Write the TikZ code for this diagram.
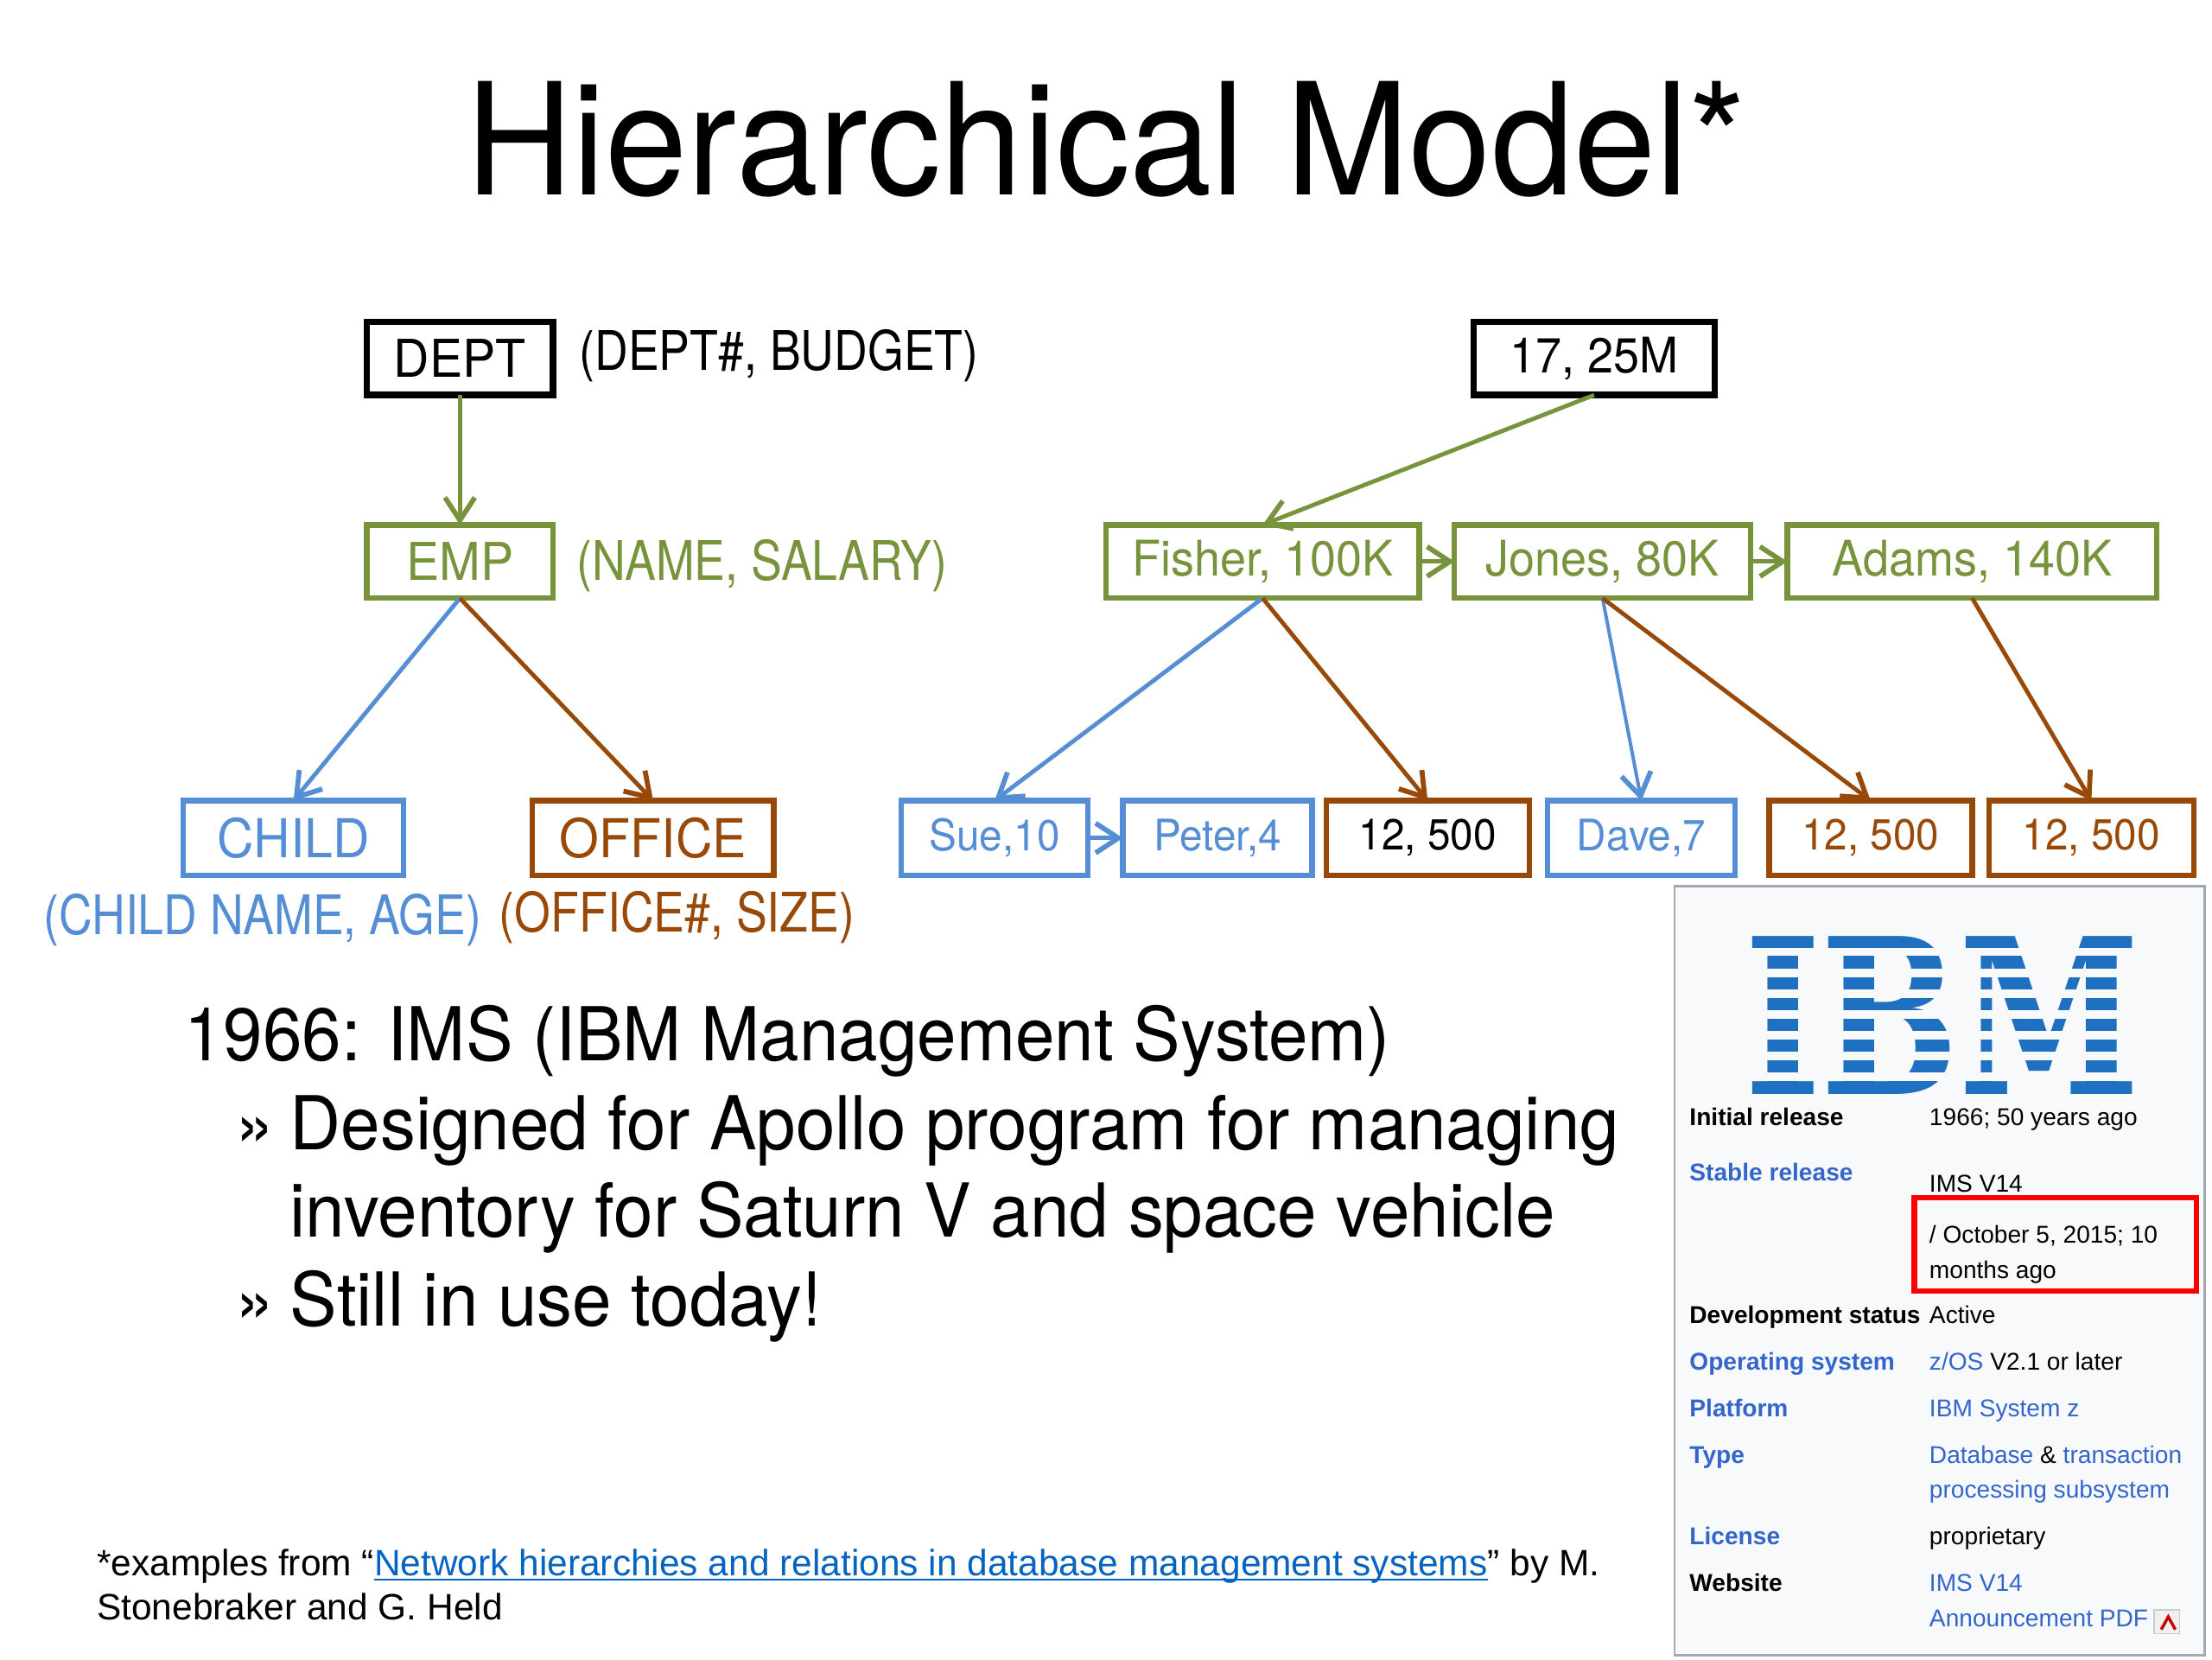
\documentclass[tikz,border=0pt]{standalone}
\usepackage{fontspec}
\setmainfont{TeX Gyre Heros}[FakeStretch=0.95]
\newfontfamily\attrfont{TeX Gyre Heros}[FakeStretch=0.85]
\newfontfamily\wikifont{Liberation Sans}
\newfontfamily\logofont{DejaVu Serif}
\usepackage{tikz}
\usetikzlibrary{arrows.meta,positioning}
\definecolor{emgreen}{HTML}{77933C}
\definecolor{emblue}{HTML}{558ED5}
\definecolor{embrown}{HTML}{984807}
\definecolor{wikibg}{HTML}{F8F9FA}
\definecolor{wikiline}{HTML}{A2A9B1}
\definecolor{wikilink}{HTML}{3366CC}
\definecolor{ibmblue}{HTML}{1F70C1}
\definecolor{fnblue}{HTML}{0563C1}
% underlined link text, line close to the baseline
\newcommand\fnlink[1]{\setbox0\hbox{#1}\rlap{\rule[-1pt]{\wd0}{0.4pt}}\box0}

\begin{document}
\begin{tikzpicture}[x=0.1mm,y=-0.1mm,
	>={Straight Barb[length=4.6pt,width=6pt,line width=1pt]},
	rec/.style={rectangle,draw,inner sep=0pt,outer sep=0pt,minimum height=5.2mm,line width=1.1pt,
		font=\fontsize{9.9}{12}\selectfont},
	blkbox/.style={rec,line width=1.3pt},
	grnbox/.style={rec,draw=emgreen,text=emgreen},
	blubox/.style={rec,draw=emblue,text=emblue,minimum height=5.3mm,
		font=\fontsize{8.75}{11}\selectfont},
	brnbox/.style={rec,draw=embrown,text=embrown,minimum height=5.3mm,
		font=\fontsize{8.75}{11}\selectfont},
	link/.style={->,line width=0.85pt},
	attr/.style={inner sep=0pt,font=\attrfont\fontsize{11}{13}\selectfont},
	body/.style={anchor=base west,inner sep=0pt,font=\fontsize{15}{18}\selectfont},
	wlabel/.style={anchor=base west,inner sep=0pt,font=\wikifont\bfseries\fontsize{4.9}{6}\selectfont},
	wvalue/.style={anchor=base west,inner sep=0pt,font=\wikifont\fontsize{4.9}{6}\selectfont},
	]
	\useasboundingbox (0,0) rectangle (1568,1176);

	\node [anchor=base,inner sep=0pt,font=\fontsize{31.4}{36}\selectfont] (title) at (784,138) {Hierarchical Model*};

	% schema
	\node [blkbox,minimum width=13.2mm,font=\fontsize{10.5}{12}\selectfont] (dept) at (326,254) {DEPT};
	\node [grnbox,minimum width=13.2mm,font=\fontsize{10.5}{12}\selectfont] (emp) at (326,398) {EMP};
	\node [blubox,minimum width=15.6mm,font=\fontsize{10.8}{13}\selectfont] (child) at (208,594) {CHILD};
	\node [brnbox,minimum width=17.1mm,font=\fontsize{10.8}{13}\selectfont] (office) at (463,594) {OFFICE};
	\node [attr,anchor=west] (deptattr) at (410,252) {(DEPT\#, BUDGET)};
	\node [attr,anchor=west,text=emgreen] (empattr) at (408,401) {(NAME, SALARY)};
	\node [attr,text=emblue] (childattr) at (186,652) {(CHILD NAME, AGE)};
	\node [attr,text=embrown] (officeattr) at (480,650) {(OFFICE\#, SIZE)};
	\draw [link,emgreen] (dept.south) -- (emp.north);
	\draw [link,emblue] (emp.south) -- (child.north);
	\draw [link,embrown] (emp.south) -- (office.north);

	% instance
	\node [blkbox,minimum width=17.1mm] (rec17) at (1130,254) {17, 25M};
	\node [grnbox,minimum width=22.2mm] (fisher) at (895,398) {Fisher, 100K};
	\node [grnbox,minimum width=21mm,right=2.5mm of fisher] (jones) {Jones, 80K};
	\node [grnbox,minimum width=26.2mm,right=2.6mm of jones] (adams) {Adams, 140K};
	\node [blubox,minimum width=13.2mm] (sue) at (705,594) {Sue,10};
	\node [blubox,minimum width=13.4mm,right=2.5mm of sue] (peter) {Peter,4};
	\node [brnbox,minimum width=14.4mm,text=black,right=1mm of peter] (offa) {12, 500};
	\node [blubox,minimum width=13.3mm,right=1.3mm of offa] (dave) {Dave,7};
	\node [brnbox,minimum width=14.4mm,right=2.4mm of dave] (offb) {12, 500};
	\node [brnbox,minimum width=14.5mm,right=1.2mm of offb] (offc) {12, 500};
	\draw [link,emgreen] (rec17.south) -- (fisher.north);
	\draw [link,emgreen] (fisher) -- (jones);
	\draw [link,emgreen] (jones) -- (adams);
	\draw [link,emblue] (fisher.south) -- (sue.north);
	\draw [link,embrown] (fisher.south) -- (offa.north);
	\draw [link,emblue] (sue) -- (peter);
	\draw [link,emblue,line width=0.7pt] (jones.south) -- (dave.north);
	\draw [link,embrown] (jones.south) -- (offb.north);
	\draw [link,embrown] (adams.south) -- (offc.north);

	% text
	\node [body] (ims) at (130,752) {1966: IMS (IBM Management System)};
	\node [body] (bul1) at (166,815) {»};
	\node [body] (apollo) at (205,815) {Designed for Apollo program for managing};
	\node [body] (saturn) at (205,877) {inventory for Saturn V and space vehicle};
	\node [body] (bul2) at (166,940) {»};
	\node [body] (still) at (205,940) {Still in use today!};

	\node [anchor=base west,inner sep=0pt,font=\wikifont\fontsize{7.4}{9}\selectfont] (note1) at (68,1117)
		{*examples from “\textcolor{fnblue}{\fnlink{Network hierarchies and relations in database management systems}}” by M.};
	\node [anchor=base west,inner sep=0pt,font=\wikifont\fontsize{7.4}{9}\selectfont] (note2) at (68,1148)
		{Stonebraker and G. Held};

	% infobox
	\draw [fill=wikibg,draw=wikiline,line width=0.5pt] (1187,628) rectangle (1563,1173);
	\node [anchor=north west,inner sep=0pt,text=ibmblue] (ibm) at (1236,663)
		{\resizebox{28mm}{11.2mm}{\logofont\bfseries IBM}};
	\foreach \k in {0,...,6}
		\fill [wikibg] (1228,{672.05+\k*14.71}) rectangle (1524,{677.71+\k*14.71});

	\node [wlabel] (l1) at (1197,798) {Initial release};
	\node [wvalue] (v1) at (1367,798) {1966; 50 years ago};
	\node [wlabel,text=wikilink] (l2) at (1197,837) {Stable release};
	\node [wvalue] (v2) at (1367,845) {IMS V14};
	\node [wvalue] (v2b) at (1367,881) {/ October 5, 2015; 10};
	\node [wvalue] (v2c) at (1367,906) {months ago};
	\draw [red,line width=1.1pt] (1357,849) rectangle (1557,915);
	\node [wlabel] (l3) at (1197,938) {Development status};
	\node [wvalue] (v3) at (1367,938) {Active};
	\node [wlabel,text=wikilink] (l4) at (1197,971) {Operating system};
	\node [wvalue] (v4) at (1367,971) {\textcolor{wikilink}{z/OS} V2.1 or later};
	\node [wlabel,text=wikilink] (l5) at (1197,1004) {Platform};
	\node [wvalue,text=wikilink] (v5) at (1367,1004) {IBM System z};
	\node [wlabel,text=wikilink] (l6) at (1197,1037) {Type};
	\node [wvalue,text=wikilink] (v6) at (1367,1037) {Database \textcolor{black}{\&} transaction};
	\node [wvalue,text=wikilink] (v6b) at (1367,1062) {processing subsystem};
	\node [wlabel,text=wikilink] (l7) at (1197,1095) {License};
	\node [wvalue] (v7) at (1367,1095) {proprietary};
	\node [wlabel] (l8) at (1197,1128) {Website};
	\node [wvalue,text=wikilink] (v8) at (1367,1128) {IMS V14};
	\node [wvalue,text=wikilink] (v8b) at (1367,1153) {Announcement PDF};
	\draw [fill=gray!12,draw=gray!40,line width=0.3pt] (1527,1141) rectangle (1545,1158);
	\draw [red!80!black,line width=0.6pt] (1532,1155) -- (1537,1146) -- (1542,1155);
\end{tikzpicture}
\end{document}
